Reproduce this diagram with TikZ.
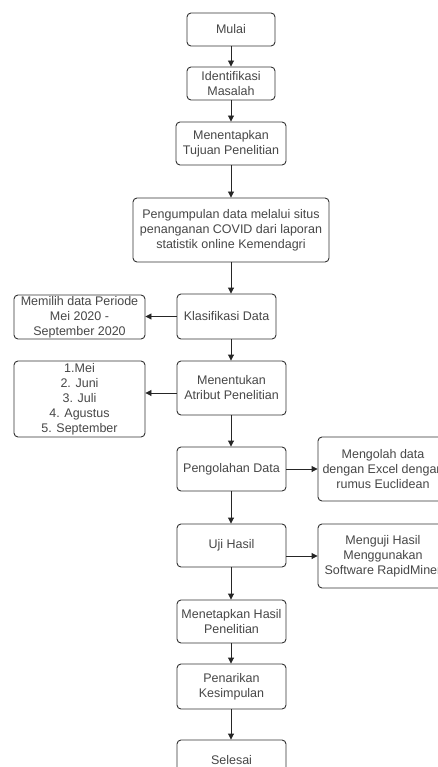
\documentclass[tikz,border=0pt]{standalone}
\usepackage{fontspec}
\setmainfont{Liberation Sans}
\usetikzlibrary{arrows.meta,calc}

\tikzset{
  box/.style={draw=black!80, line width=0.9pt, rounded corners=4pt,
    align=center, text=black!72, inner sep=1pt,
    font=\fontsize{12.5}{15}\selectfont},
  flow/.style={draw=black!85, line width=0.9pt,
    -{Triangle[length=6pt,width=6pt]}}
}

\begin{document}
\begin{tikzpicture}[x=1pt,y=-1pt]
  \clip (0,0) rectangle (438,767);
  \fill[white] (0,0) rectangle (438,767);

  % main column
  \node[box, minimum width=88pt, minimum height=33pt] (mulai) at (231,29.5) {Mulai};
  \node[box, minimum width=88pt, minimum height=33pt] (ident) at (231,83.5) {Identifikasi\\Masalah};
  \node[box, minimum width=110pt, minimum height=43pt] (tujuan) at (231,143.5) {Menentapkan\\Tujuan Penelitian};
  \node[box, minimum width=196pt, minimum height=64pt] (kumpul) at (231,230) {Pengumpulan data melalui situs\\penanganan COVID dari laporan\\statistik online  Kemendagri};
  \node[box, minimum width=99pt, minimum height=45pt] (klas) at (226.5,316.5) {Klasifikasi Data};
  \node[box, minimum width=109pt, minimum height=54pt] (atribut) at (231.5,388) {Menentukan\\Atribut Penelitian};
  \node[box, minimum width=109pt, minimum height=44pt] (olah) at (231.5,469) {Pengolahan Data};
  \node[box, minimum width=109pt, minimum height=43pt] (uji) at (231.5,545.5) {Uji Hasil};
  \node[box, minimum width=109pt, minimum height=43pt] (hasil) at (231.5,621.5) {Menetapkan Hasil\\Penelitian};
  \node[box, minimum width=109pt, minimum height=45pt] (tarik) at (231.5,686.5) {Penarikan\\Kesimpulan};
  \node[box, minimum width=109pt, minimum height=40pt] (selesai) at (231.5,760) {Selesai};

  % side boxes
  \node[box, minimum width=131pt, minimum height=44pt] (memilih) at (79.5,317) {Memilih data Periode\\Mei 2020 -\\September 2020};
  \node[box, minimum width=131pt, minimum height=76pt] (bulan) at (79.5,399) {1.Mei\\2. Juni\\3. Juli\\4. Agustus\\5. September};
  \node[box, minimum width=130pt, minimum height=64pt] (excel) at (383,469) {Mengolah data\\dengan Excel dengan\\rumus Euclidean};
  \node[box, minimum width=130pt, minimum height=64pt] (rapid) at (383,556) {Menguji Hasil\\Menggunakan\\Software RapidMiner};

  % vertical flow
  \coordinate (axis) at (231,0);
  \draw[flow] (mulai) -- (ident);
  \draw[flow] (ident) -- (tujuan);
  \draw[flow] (tujuan) -- (kumpul);
  \draw[flow] (axis |- kumpul.south) -- (axis |- klas.north);
  \draw[flow] (axis |- klas.south) -- (axis |- atribut.north);
  \draw[flow] (axis |- atribut.south) -- (axis |- olah.north);
  \draw[flow] (axis |- olah.south) -- (axis |- uji.north);
  \draw[flow] (axis |- uji.south) -- (axis |- hasil.north);
  \draw[flow] (axis |- hasil.south) -- (axis |- tarik.north);
  \draw[flow] (axis |- tarik.south) -- (axis |- selesai.north);

  % side branches
  \draw[flow] (klas.west) -- (klas.west -| memilih.east);
  \coordinate (atrout) at ($(atribut.west)+(0,5)$);
  \draw[flow] (atrout) -- (atrout -| bulan.east);
  \draw[flow] (olah.east) -- (olah.east -| excel.west);
  \draw[flow] (uji.east |- rapid.west) -- (rapid.west);
\end{tikzpicture}
\end{document}
